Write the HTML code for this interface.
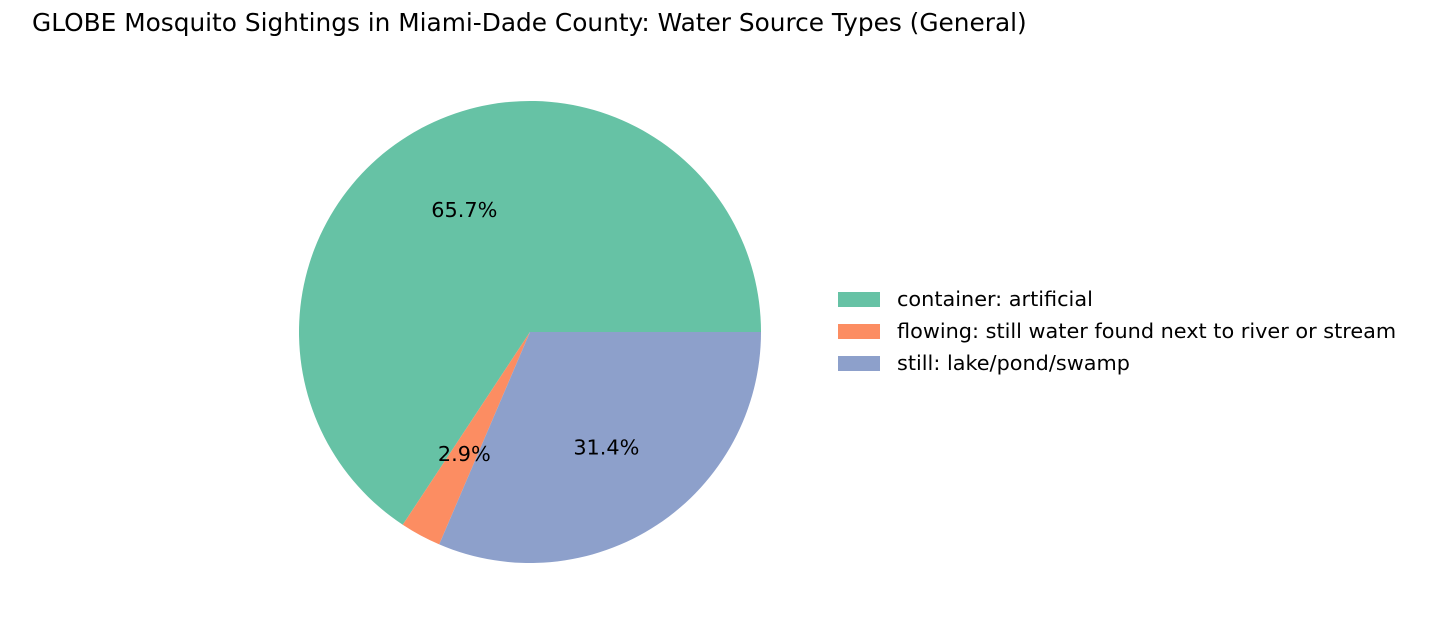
<!DOCTYPE html>
<html><head><meta charset="utf-8"><style>
body{margin:0;background:#fff;font-family:"Liberation Sans","DejaVu Sans",sans-serif}
</style></head><body>
<svg width="1433" height="615" xmlns="http://www.w3.org/2000/svg">
<text x="32" y="31" font-size="24.8" fill="#000" font-family="DejaVu Sans, Liberation Sans, sans-serif">GLOBE Mosquito Sightings in Miami-Dade County: Water Source Types (General)</text>
<g id="slices"></g>
<g id="labels"></g>
<g id="legend"></g>
</svg>
<script>
const categories=["container: artificial","flowing: still water found next to river or stream","still: lake/pond/swamp"];
const counts=[23,1,11];
const colors=["#66c2a5","#fc8d62","#8da0cb"];
const cx=530,cy=332,r=231;
const total=counts.reduce((a,b)=>a+b,0);
const ns="http://www.w3.org/2000/svg";
const g=document.getElementById('slices');
const lb=document.getElementById('labels');
let a0=0;
counts.forEach((v,i)=>{
  const frac=v/total,a1=a0+frac*2*Math.PI;
  const x0=cx+r*Math.cos(a0),y0=cy-r*Math.sin(a0),x1=cx+r*Math.cos(a1),y1=cy-r*Math.sin(a1);
  const p=document.createElementNS(ns,'path');
  p.setAttribute('d',`M${cx},${cy}L${x0},${y0}A${r},${r} 0 ${frac>0.5?1:0} 0 ${x1},${y1}Z`);
  p.setAttribute('fill',colors[i]);
  
  
  g.appendChild(p);
  const am=(a0+a1)/2;
  const t=document.createElementNS(ns,'text');
  t.setAttribute('x',cx+0.6*r*Math.cos(am));t.setAttribute('y',cy-0.6*r*Math.sin(am)+7);
  t.setAttribute('text-anchor','middle');t.setAttribute('font-size','20.8');
  t.setAttribute('font-family','DejaVu Sans, Liberation Sans, sans-serif');
  t.textContent=(frac*100).toFixed(1)+'%';
  
  
  lb.appendChild(t);
  a0=a1;
});
const lg=document.getElementById('legend');
categories.forEach((c,i)=>{
  const y=299+i*32;
  const rc=document.createElementNS(ns,'rect');
  rc.setAttribute('x',838);rc.setAttribute('y',y-7);rc.setAttribute('width',42);rc.setAttribute('height',15);rc.setAttribute('fill',colors[i]);
  
  
  lg.appendChild(rc);
  const t=document.createElementNS(ns,'text');
  t.setAttribute('x',897);t.setAttribute('y',y+7);t.setAttribute('font-size','20.8');
  t.setAttribute('font-family','DejaVu Sans, Liberation Sans, sans-serif');
  t.textContent=c;
  
  
  lg.appendChild(t);
});
</script>
</body></html>
